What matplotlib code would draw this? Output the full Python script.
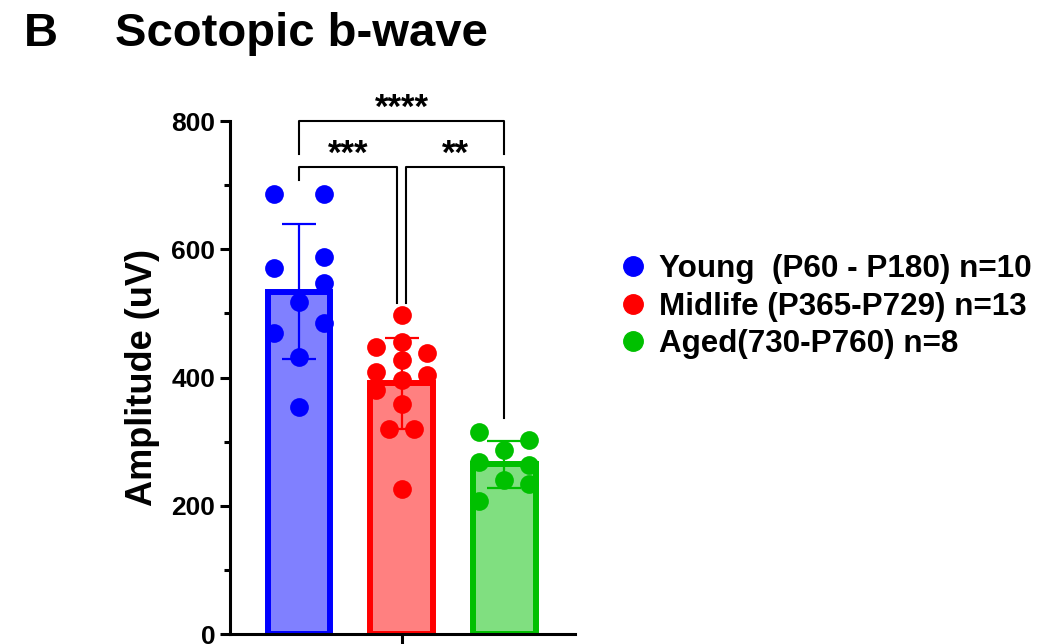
import numpy as np
import matplotlib.pyplot as plt
from matplotlib.lines import Line2D

plt.rcParams['font.family'] = ['Liberation Sans', 'DejaVu Sans']
plt.rcParams['font.weight'] = 'bold'

# ------------------------------------------
# data
# ------------------------------------------
groups = ["Young  (P60 - P180) n=10",
          "Midlife (P365-P729) n=13",
          "Aged(730-P760) n=8"]

young = [686, 686, 571, 588, 548, 517, 470, 485, 432, 354]
young_lane = [-1, 1, -1, 1, 1, 0, -1, 1, 0, 0]

midlife = [498, 448, 455, 438, 427, 409, 404, 396, 381, 359, 320, 320, 226]
midlife_lane = [0, -1, 0, 1, 0, -1, 1, 0, -1, 0, -0.5, 0.5, 0]

aged = [315, 303, 287, 268, 264, 240, 234, 207]
aged_lane = [-1, 1, 0, -1, 1, 0, 1, -1]

edge_colors = ["#0000ff", "#ff0000", "#00c000"]
fill_colors = ["#8080ff", "#ff8080", "#80df80"]

# significance brackets: (x1, x2, bar height, left leg end, right leg end, label)
brackets = [
    (0.0, 0.96, 728, 708, 516, "***"),
    (1.04, 2.0, 728, 516, 337, "**"),
    (0.0, 2.0, 800, 749, 749, "****"),
]

samples = [young, midlife, aged]
lanes = [young_lane, midlife_lane, aged_lane]
means = [np.mean(s) for s in samples]
sds = [np.std(s, ddof=1) for s in samples]

# ------------------------------------------
# figure
# ------------------------------------------
fig = plt.figure(figsize=(10.64, 6.44), dpi=100)
ax = fig.add_axes([0.2162, 0.0155, 0.3243, 0.7966])

x = np.arange(len(samples))
ax.bar(x, means, width=0.61, color=fill_colors, edgecolor=edge_colors,
       linewidth=4.3, zorder=2)

for i in x:
    ax.errorbar(i, means[i], yerr=sds[i], color=edge_colors[i],
                elinewidth=1.6, capsize=12, capthick=1.6, zorder=3)
    ax.plot(i + 0.245 * np.array(lanes[i]), samples[i], 'o',
            color=edge_colors[i], markersize=13.5, markeredgewidth=0,
            zorder=4, clip_on=False)

for x1, x2, h, l1, l2, lab in brackets:
    ax.plot([x1, x1, x2, x2], [l1, h, h, l2], color='black', lw=1.5,
            clip_on=False, zorder=5)
    ax.text((x1 + x2) / 2, h - 6, lab, ha='center', va='bottom',
            fontsize=25, fontweight='bold')

ax.set_xlim(-0.67, 2.69)
ax.set_ylim(0, 800)
ax.set_yticks([0, 200, 400, 600, 800])
ax.set_yticks([100, 300, 500, 700], minor=True)
ax.set_xticks([1])
ax.set_xticklabels([""])
ax.tick_params(axis='both', which='major', width=2.2, length=7,
               labelsize=19)
ax.tick_params(axis='y', which='minor', width=2.2, length=4)
for lab in ax.get_yticklabels():
    lab.set_fontweight('bold')

for side in ['top', 'right']:
    ax.spines[side].set_visible(False)
for side in ['left', 'bottom']:
    ax.spines[side].set_linewidth(2.2)
    ax.spines[side].set_zorder(6)

ax.set_ylabel("Amplitude (uV)", fontsize=26, fontweight='bold', labelpad=8)

handles = [Line2D([], [], marker='o', ls='', color=c, markersize=14)
           for c in edge_colors]
fig.legend(handles, groups, loc='center left', bbox_to_anchor=(0.58, 0.524),
           frameon=False, handlelength=1.0, handletextpad=0.35,
           labelspacing=0.23, borderpad=0, borderaxespad=0,
           prop={'weight': 'bold', 'size': 22.6})

fig.text(0.022, 0.947, "B", fontsize=34, fontweight='bold', va='center')
fig.text(0.108, 0.947, "Scotopic b-wave", fontsize=34, fontweight='bold',
         va='center')

fig.savefig("out.png", dpi=100)
